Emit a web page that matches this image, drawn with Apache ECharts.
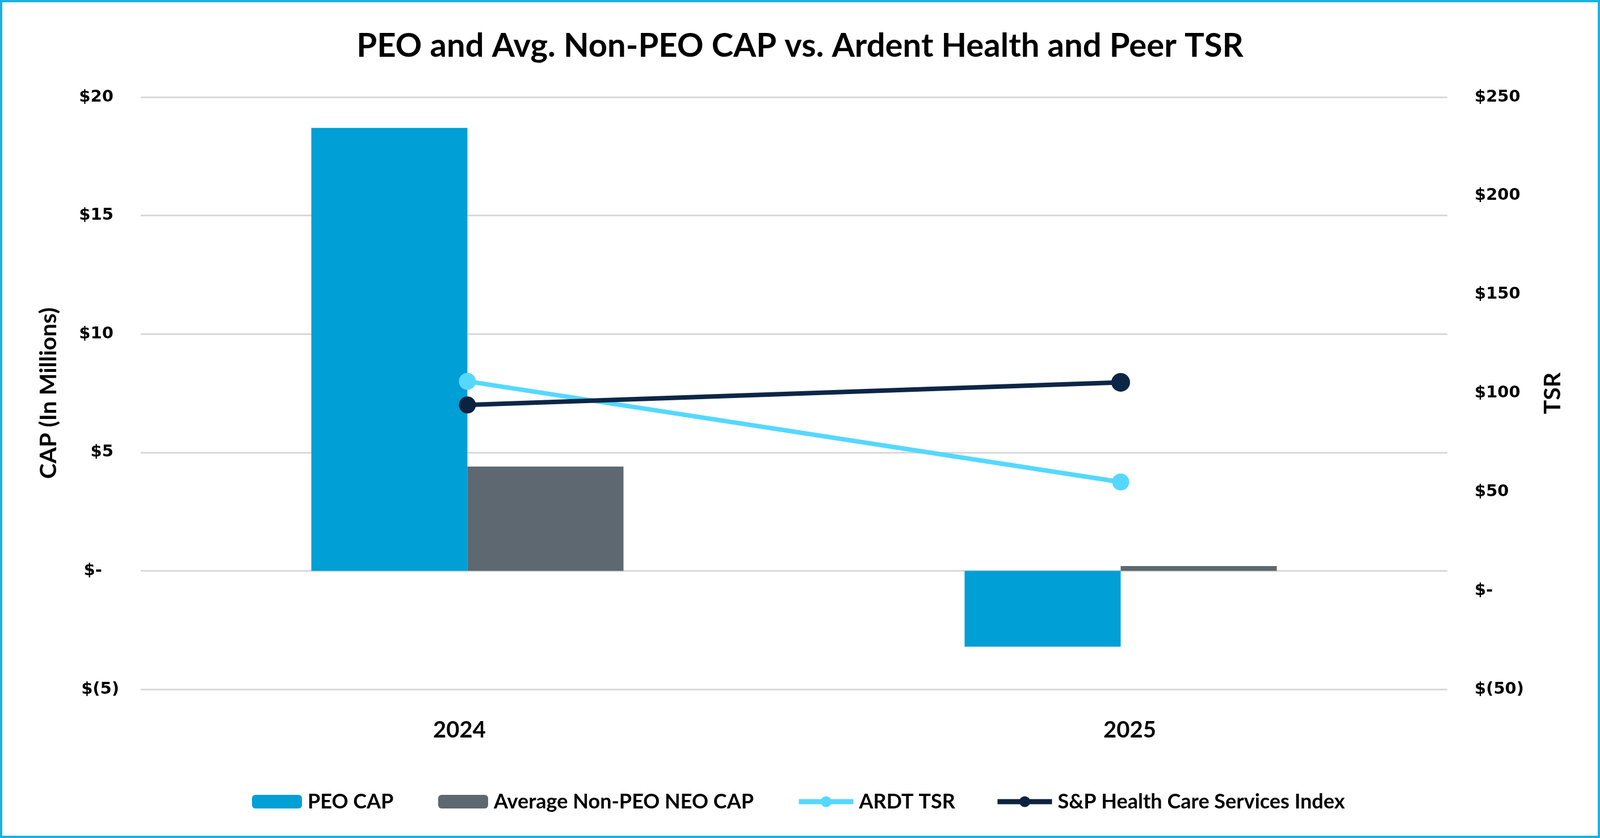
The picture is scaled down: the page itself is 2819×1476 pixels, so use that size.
<!DOCTYPE html>
<html>
<head>
<meta charset="utf-8">
<script src="https://cdn.jsdelivr.net/npm/echarts@6/dist/echarts.min.js"></script>
<style>
  html, body { margin: 0; padding: 0; background: #fff; }
  #chart { width: 2819px; height: 1476px; }
  #frame { position: absolute; left: 0; top: 0; width: 2819px; height: 1476px;
           box-sizing: border-box; border: 4px solid #19B2E0; pointer-events: none; }
</style>
</head>
<body>
<div id="chart"></div>
<div id="frame"></div>
<script>
// values
var years = ['2024', '2025'];
var peoCap = [18.7, -3.2];          // $M
var avgNeoCap = [4.4, 0.2];         // $M
var ardtTsr = [106, 55];            // $
var spIndex = [94, 105.5];          // $
var seriesNames = ['PEO CAP', 'Average Non-PEO NEO CAP', 'ARDT TSR', 'S&P Health Care Services Index'];

var myChart = echarts.init(document.getElementById('chart'));

function leftFmt(v) {
    if (v < 0) return '$(' + (-v) + ')';
    if (v === 0) return '$-   ';
    return '$' + v + ' ';
}
function rightFmt(v) {
    if (v < 0) return '$(' + (-v) + ')';
    if (v === 0) return '$-';
    return '$' + v;
}

var legendText = { fontFamily: 'Lato', fontWeight: 'bold', fontSize: 36, color: '#000', padding: [0, 0, 0, 5] };
// one legend per item so the spacing follows the picture
function legendAt(name, left, w) {
    return {
        left: left, top: 1389,
        itemWidth: w, itemHeight: 24,
        lineStyle: { width: 9 },
        textStyle: legendText,
        data: [name]
    };
}

var option = {
    backgroundColor: '#fff',
    title: {
        text: 'PEO and Avg. Non-PEO CAP vs. Ardent Health and Peer TSR',
        left: 'center',
        top: 47,
        textStyle: { fontFamily: 'Lato', fontWeight: 'bold', fontSize: 58, color: '#000' }
    },
    legend: [
        legendAt(seriesNames[0], 439, 88),
        legendAt(seriesNames[1], 767, 88),
        legendAt(seriesNames[2], 1398, 96),
        legendAt(seriesNames[3], 1748, 96)
    ],
    grid: { left: 248, right: 269, top: 171, bottom: 262 },
    xAxis: {
        type: 'category',
        data: years,
        axisLine: { show: false },
        axisTick: { show: false },
        axisLabel: {
            margin: 52,
            formatter: function (v, i) { return i === 0 ? '{a|' + v + '}' : '{b|' + v + '}'; },
            rich: {
                a: { fontFamily: 'Lato', fontWeight: 'bold', fontSize: 40, color: '#000', padding: [0, 28, 0, 0] },
                b: { fontFamily: 'Lato', fontWeight: 'bold', fontSize: 40, color: '#000', padding: [0, 0, 0, 32] }
            }
        }
    },
    yAxis: [
        {
            type: 'value',
            min: -5, max: 20, interval: 5,
            name: 'CAP (In Millions)',
            nameLocation: 'middle',
            nameGap: 142,
            nameTextStyle: { fontFamily: 'Lato', fontWeight: 'bold', fontSize: 41, color: '#000' },
            axisLine: { show: false },
            axisTick: { show: false },
            splitLine: { lineStyle: { color: '#D9D9D9', width: 3 } },
            axisLabel: { margin: 38, formatter: leftFmt, fontFamily: 'DejaVu Sans', fontWeight: 'bold', fontSize: 29, color: '#000' }
        },
        {
            type: 'value',
            min: -50, max: 250, interval: 50,
            name: 'TSR',
            nameLocation: 'middle',
            nameGap: 165,
            nameTextStyle: { fontFamily: 'Lato', fontWeight: 'bold', fontSize: 41, color: '#000' },
            axisLine: { show: false },
            axisTick: { show: false },
            splitLine: { show: false },
            axisLabel: { margin: 48, formatter: rightFmt, fontFamily: 'DejaVu Sans', fontWeight: 'bold', fontSize: 29, color: '#000' }
        }
    ],
    series: [
        {
            name: seriesNames[0], type: 'bar', yAxisIndex: 0,
            barWidth: 275, barGap: '0%',
            itemStyle: { color: '#009FD6' },
            data: peoCap
        },
        {
            name: seriesNames[1], type: 'bar', yAxisIndex: 0,
            barWidth: 275, barGap: '0%',
            itemStyle: { color: '#5D6870' },
            data: avgNeoCap
        },
        {
            name: seriesNames[2], type: 'line', yAxisIndex: 1,
            symbol: 'circle', symbolSize: 30,
            lineStyle: { color: '#55D8FF', width: 8 },
            itemStyle: { color: '#55D8FF' },
            data: ardtTsr
        },
        {
            name: seriesNames[3], type: 'line', yAxisIndex: 1,
            symbol: 'circle', symbolSize: 30,
            lineStyle: { color: '#0C2340', width: 8 },
            itemStyle: { color: '#0C2340' },
            data: spIndex
        }
    ]
};

myChart.setOption(option);
</script>
</body>
</html>
